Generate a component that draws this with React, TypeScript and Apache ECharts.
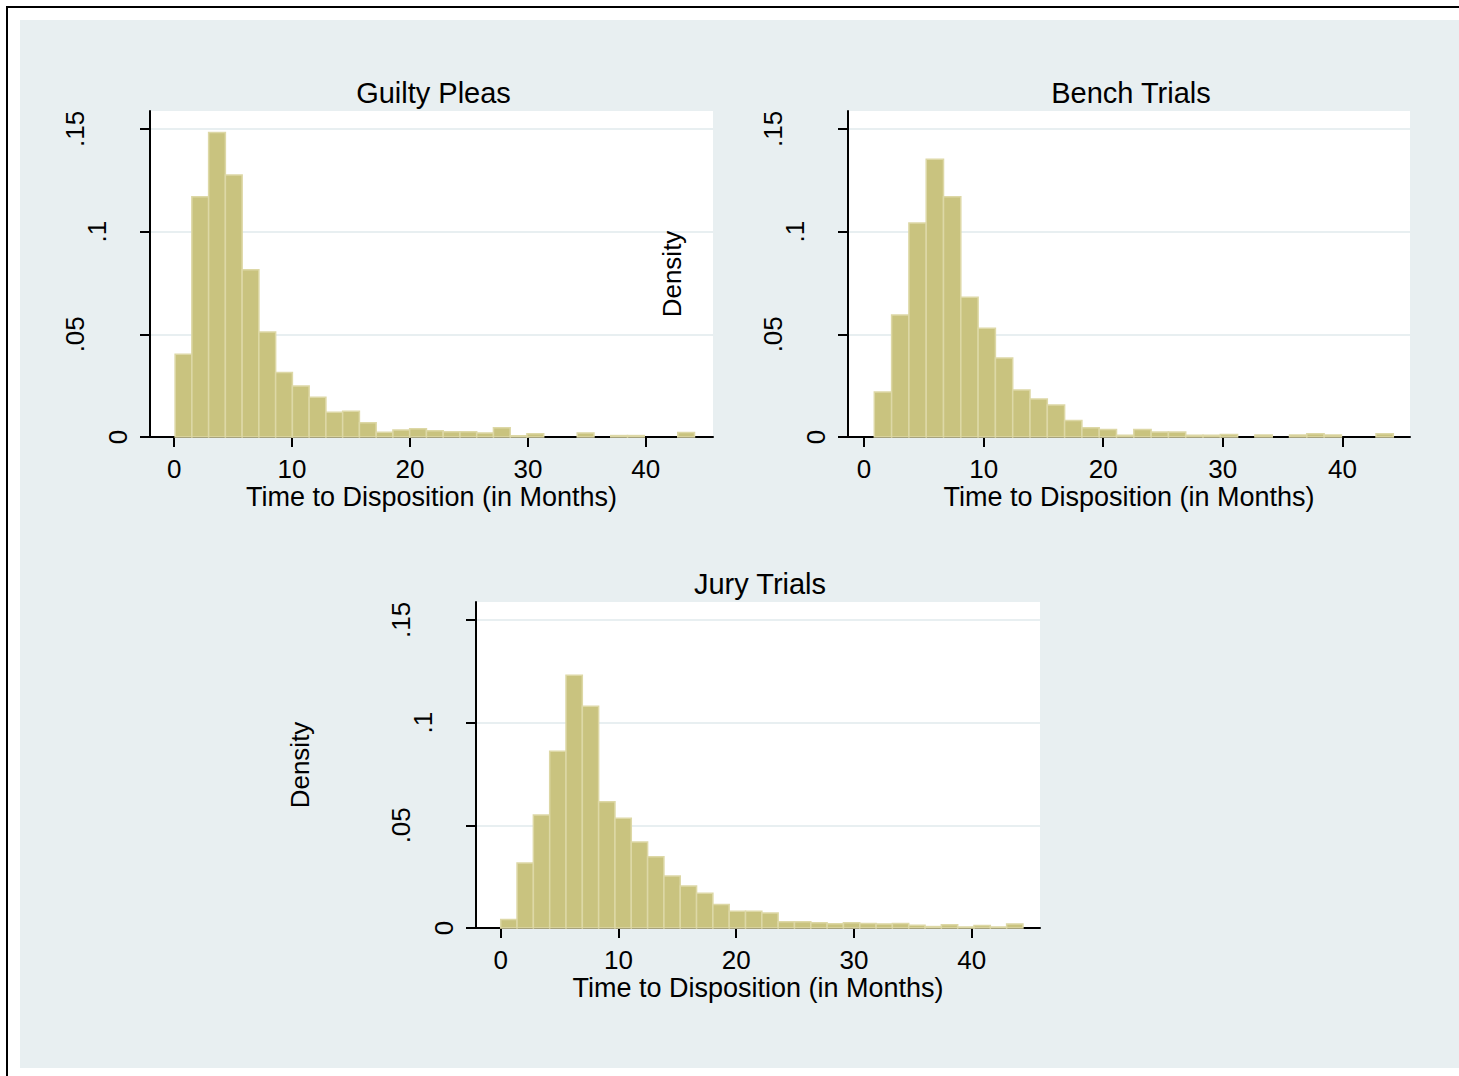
import React, { useEffect, useRef } from "react";
import * as echarts from "echarts";

// ---------- data ----------
const panelTitles = ["Guilty Pleas", "Bench Trials", "Jury Trials"];
const xAxisTitle = "Time to Disposition (in Months)";
const yAxisTitle = "Density";
const xTickValues = [0, 10, 20, 30, 40];
const yTickValues = [0, 0.05, 0.1, 0.15];

const guiltyBinStart = 0.08;
const guiltyBinWidth = 1.421;
const guiltyDensity = [
  0.0403, 0.117, 0.1482, 0.1275, 0.0814, 0.0511, 0.0314, 0.0248, 0.0193, 0.012,
  0.0125, 0.0069, 0.0023, 0.0034, 0.004, 0.0031, 0.0026, 0.0026, 0.002, 0.0045,
  0.0006, 0.0016, 0, 0, 0.002, 0, 0.0007, 0.0007, 0, 0, 0.0022,
];

const benchBinStart = 0.86;
const benchBinWidth = 1.4465;
const benchDensity = [
  0.0219, 0.0594, 0.1042, 0.1352, 0.117, 0.068, 0.0529, 0.0385, 0.0229, 0.0185,
  0.0156, 0.008, 0.0045, 0.0037, 0.0008, 0.0037, 0.0024, 0.0024, 0.0008, 0.0008,
  0.0012, 0, 0.001, 0, 0.001, 0.0016, 0.001, 0, 0, 0.0016,
];

const juryBinStart = 0.0;
const juryBinWidth = 1.386;
const juryDensity = [
  0.0041, 0.0316, 0.055, 0.086, 0.123, 0.108, 0.0615, 0.0534, 0.0419, 0.0347,
  0.0253, 0.0204, 0.0169, 0.0114, 0.0081, 0.0081, 0.0073, 0.0031, 0.0031, 0.0026,
  0.0021, 0.0026, 0.0022, 0.002, 0.0022, 0.0013, 0.0007, 0.0016, 0.0005, 0.0012,
  0.0005, 0.002,
];

// ---------- helpers ----------
const FONT = "Liberation Sans, Arial, Helvetica, sans-serif";
const BAR_FILL = "#C9C37F";
const BAR_EDGE = "#DDD8A6";
const BG = "#E8EFF1";

function binsToData(start: number, width: number, dens: number[]) {
  return dens.map((d, i) => [start + i * width, start + (i + 1) * width, d]);
}

function fmtY(v: number) {
  return String(v).replace(/^0\./, ".");
}

export default function App() {
  const ref = useRef<HTMLDivElement>(null);

  useEffect(() => {
    if (!ref.current) return;
    const chart = echarts.init(ref.current, undefined, { renderer: "svg" });

    const panels = [
      { left: 150, top: 111, width: 563, height: 326, xmin: -2.05, xmax: 45.7, data: binsToData(guiltyBinStart, guiltyBinWidth, guiltyDensity), showName: false },
      { left: 848, top: 111, width: 562, height: 326, xmin: -1.34, xmax: 45.65, data: binsToData(benchBinStart, benchBinWidth, benchDensity), showName: true },
      { left: 476, top: 602, width: 564, height: 326, xmin: -2.1, xmax: 45.8, data: binsToData(juryBinStart, juryBinWidth, juryDensity), showName: true },
    ];

    const labelBase = { fontSize: 26, fontFamily: FONT, color: "#000" };
    const nameBase = { fontSize: 27, fontFamily: FONT, color: "#000", lineHeight: 24 };

    const option: any = {
      animation: false,
      backgroundColor: "#FFFFFF",
      graphic: [
        { type: "rect", z: -100, shape: { x: 20, y: 20, width: 1439, height: 1048 }, style: { fill: BG } },
        { type: "line", z: -100, shape: { x1: 6, y1: 7, x2: 1459, y2: 7 }, style: { stroke: "#000", lineWidth: 2 } },
        { type: "line", z: -100, shape: { x1: 7, y1: 6, x2: 7, y2: 1076 }, style: { stroke: "#000", lineWidth: 2 } },
      ],
      title: panels.map((p, i) => ({
        text: panelTitles[i],
        left: p.left + p.width / 2 + 2,
        top: p.top - 33,
        textAlign: "center",
        padding: 0,
        textStyle: { fontSize: 29, fontWeight: "normal", fontFamily: FONT, color: "#000" },
      })),
      grid: panels.map((p) => ({
        left: p.left,
        top: p.top,
        width: p.width,
        height: p.height,
        show: true,
        backgroundColor: "#FFFFFF",
        borderWidth: 0,
        containLabel: false,
        outerBoundsMode: "none",
      })),
      xAxis: panels.map((p, i) => ({
        type: "value",
        gridIndex: i,
        min: p.xmin,
        max: p.xmax,
        name: xAxisTitle,
        nameLocation: "middle",
        nameGap: 48,
        nameTextStyle: { ...nameBase },
        axisLine: { show: true, onZero: false, lineStyle: { color: "#000", width: 2 } },
        axisTick: { show: true, length: 10, customValues: xTickValues, lineStyle: { color: "#000", width: 2 } },
        axisLabel: { show: true, margin: 20, lineHeight: 24, customValues: xTickValues, ...labelBase },
        splitLine: { show: false },
      })),
      yAxis: panels.map((p, i) => ({
        type: "value",
        gridIndex: i,
        min: 0,
        max: 0.1587,
        interval: 0.05,
        name: p.showName ? yAxisTitle : "",
        nameLocation: "middle",
        nameRotate: 90,
        nameGap: 163,
        nameTextStyle: { ...labelBase },
        axisLine: { show: true, onZero: false, lineStyle: { color: "#000", width: 2 } },
        axisTick: { show: true, length: 10, customValues: yTickValues, lineStyle: { color: "#000", width: 2 } },
        axisLabel: {
          show: true,
          rotate: 90,
          margin: 19,
          customValues: yTickValues,
          ...labelBase,
          formatter: (v: number) => {
            const s = fmtY(v);
            const key = s.length === 1 ? "a" : s.length === 2 ? "b" : "c";
            return `{${key}|${s}}`;
          },
          rich: {
            a: { ...labelBase, padding: [0, 0, 0, 0] },
            b: { ...labelBase, padding: [0, 0, 21, 0] },
            c: { ...labelBase, padding: [0, 0, 43, 0] },
          },
        },
        splitLine: { show: true, lineStyle: { color: BG, width: 2 } },
      })),
      series: panels.map((p, i) => ({
        type: "custom",
        xAxisIndex: i,
        yAxisIndex: i,
        encode: { x: [0, 1], y: 2 },
        data: p.data,
        renderItem: (params: any, api: any) => {
          const v = api.value(2);
          if (!v) return null;
          const p0 = api.coord([api.value(0), v]);
          const p1 = api.coord([api.value(1), 0]);
          return {
            type: "rect",
            shape: { x: p0[0], y: p0[1], width: p1[0] - p0[0], height: p1[1] - p0[1] },
            style: { fill: BAR_FILL, stroke: BAR_EDGE, lineWidth: 1.5 },
          };
        },
      })),
    };

    chart.setOption(option);
    return () => chart.dispose();
  }, []);

  return (
    <div
      ref={ref}
      style={{ position: "absolute", left: 0, top: 0, width: 1459, height: 1076 }}
    />
  );
}
